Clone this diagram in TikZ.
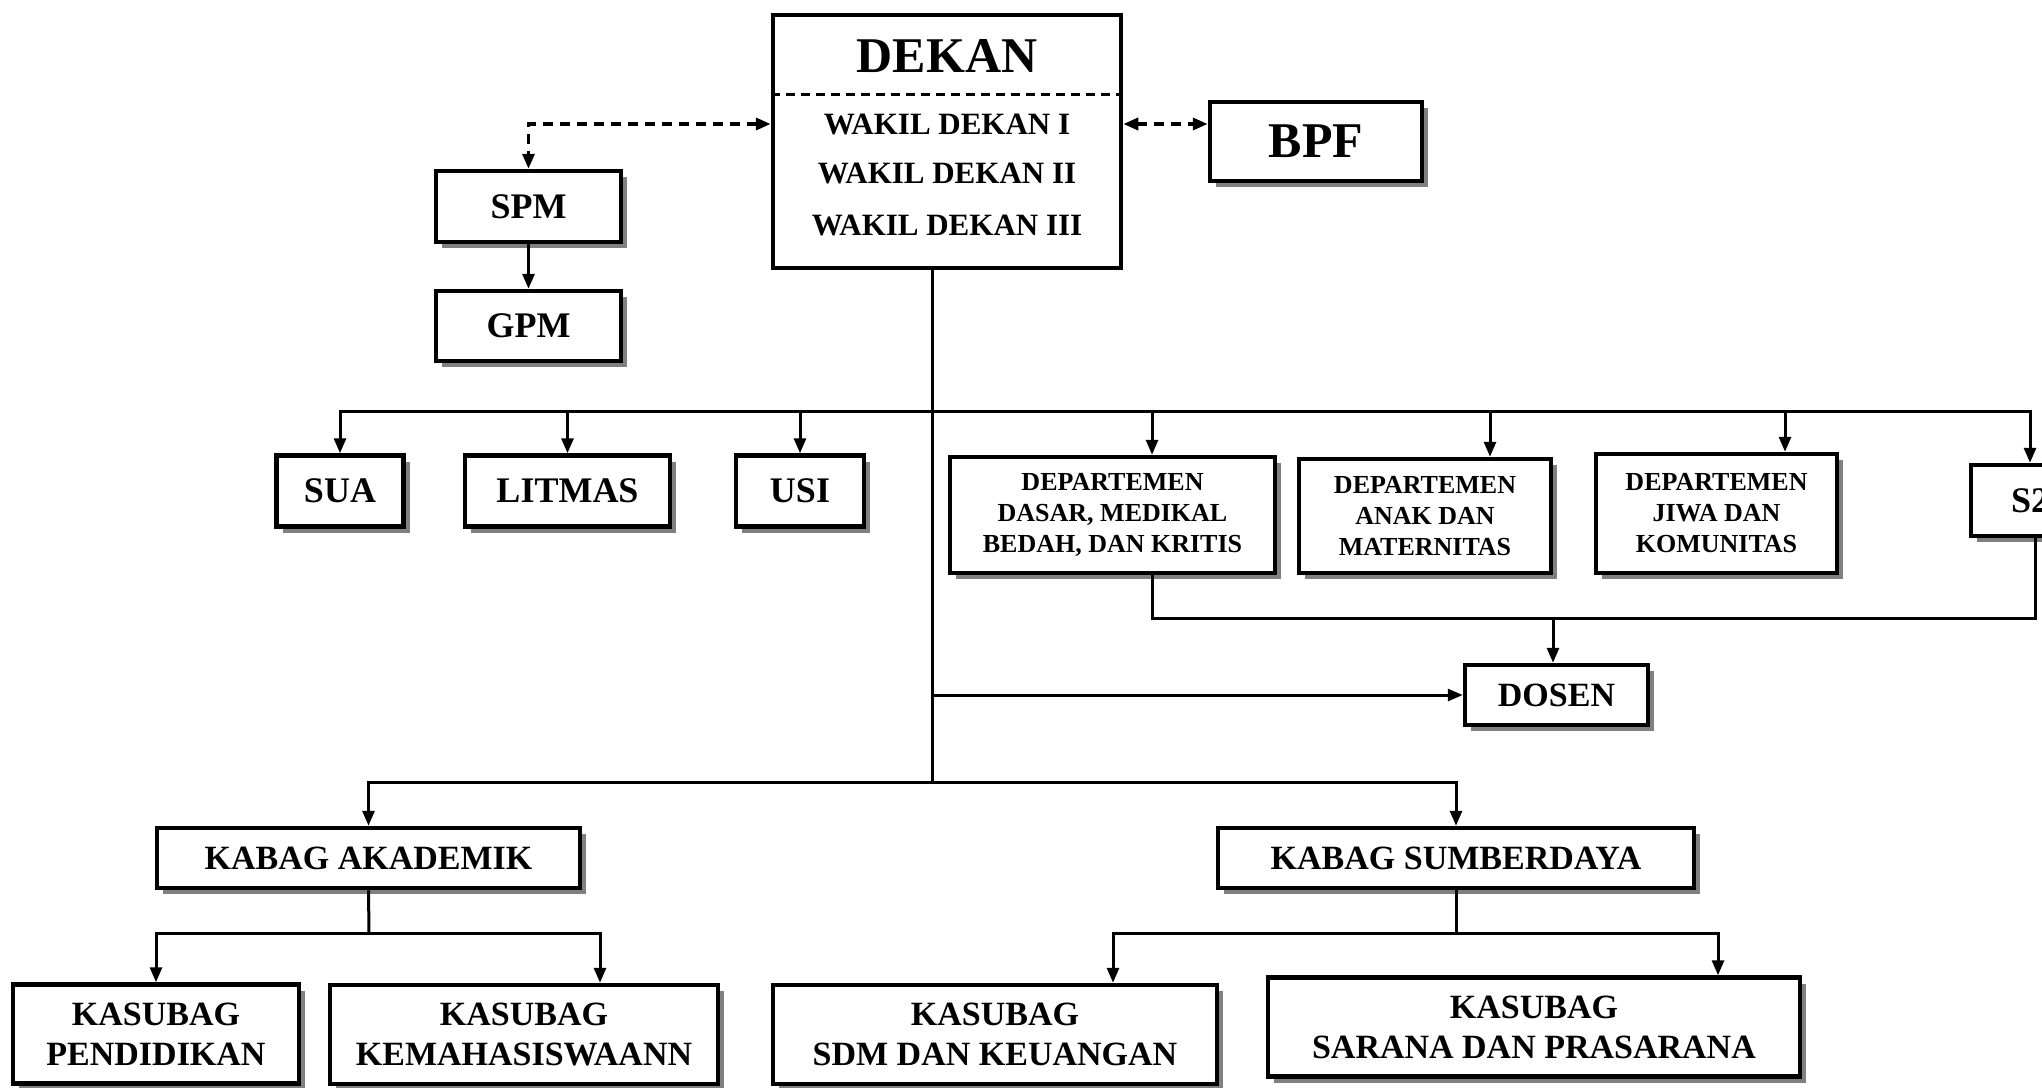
\documentclass[tikz,border=0pt]{standalone}
\usepackage{fontspec}
\setmainfont{Liberation Serif}
\usetikzlibrary{arrows.meta,shadows}
\tikzset{
  orgbox/.style={draw,line width=4.5pt,fill=white,inner sep=0pt,align=center},
  shadowbox/.style={orgbox,drop shadow={shadow xshift=6pt,shadow yshift=-6pt,fill=black!50,opacity=1}},
  plain/.style={line width=3pt},
  conn/.style={plain,-{Triangle[length=15pt,width=12pt]}},
  dashconn/.style={line width=3.5pt,dash pattern=on 10pt off 7pt,{Triangle[length=15pt,width=12pt]}-{Triangle[length=15pt,width=12pt]}},
  bigtxt/.style={font=\fontsize{50}{60}\selectfont\bfseries},
  wdtxt/.style={font=\fontsize{31}{36}\selectfont\bfseries},
  unittxt/.style={font=\fontsize{36}{42}\selectfont\bfseries},
  deptxt/.style={font=\fontsize{26}{31}\selectfont\bfseries},
  kabtxt/.style={font=\fontsize{34}{40}\selectfont\bfseries}
}
\begin{document}
\begin{tikzpicture}[x=1pt,y=1pt,yscale=-1,xscale=1]
        \path[use as bounding box,fill=white] (0,0) rectangle (2042,1087);
        \clip (0,0) rectangle (2042,1087);
        \node[orgbox,minimum width=348pt,minimum height=253pt] (dekan) at (947,141.5) {};
        \node[bigtxt] (dekantitle) at (947,56) {DEKAN};
        \coordinate (divider) at (947,94);
        \draw[line width=3pt,dash pattern=on 9pt off 6pt] (dekan.west |- divider) -- (dekan.east |- divider);
        \node[wdtxt] (wd1) at (947,124) {WAKIL DEKAN I};
        \node[wdtxt] (wd2) at (947,173) {WAKIL DEKAN II};
        \node[wdtxt] (wd3) at (947,225) {WAKIL DEKAN III};
        \node[shadowbox,bigtxt,minimum width=212pt,minimum height=79pt] (bpf) at (1316,141.5) {BPF};
        \node[shadowbox,unittxt,minimum width=185pt,minimum height=71pt] (spm) at (528.5,206.5) {SPM};
        \node[shadowbox,unittxt,minimum width=185pt,minimum height=70pt] (gpm) at (528.5,326) {GPM};
        \node[shadowbox,unittxt,minimum width=127pt,minimum height=71pt] (sua) at (340,491) {SUA};
        \node[shadowbox,unittxt,minimum width=205pt,minimum height=71pt] (litmas) at (567.5,491) {LITMAS};
        \node[shadowbox,unittxt,minimum width=128pt,minimum height=71pt] (usi) at (800,491) {USI};
        \node[shadowbox,deptxt,minimum width=325pt,minimum height=116pt] (dep1) at (1112.5,515) {DEPARTEMEN\\DASAR, MEDIKAL\\BEDAH, DAN KRITIS};
        \node[shadowbox,deptxt,minimum width=252pt,minimum height=114pt] (dep2) at (1425,516) {DEPARTEMEN\\ANAK DAN\\MATERNITAS};
        \node[shadowbox,deptxt,minimum width=241pt,minimum height=119pt] (dep3) at (1716.5,513.5) {DEPARTEMEN\\JIWA DAN\\KOMUNITAS};
        \node[shadowbox,unittxt,minimum width=118pt,minimum height=71pt] (s2) at (2030,500.5) {S2};
        \node[shadowbox,kabtxt,minimum width=183pt,minimum height=60pt] (dosen) at (1556.5,695) {DOSEN};
        \node[shadowbox,kabtxt,minimum width=423pt,minimum height=60pt] (kaka) at (368.5,858) {KABAG AKADEMIK};
        \node[shadowbox,kabtxt,minimum width=476pt,minimum height=60pt] (kasd) at (1456,858) {KABAG SUMBERDAYA};
        \node[shadowbox,kabtxt,minimum width=286pt,minimum height=99pt] (pend) at (156,1034) {KASUBAG\\PENDIDIKAN};
        \node[shadowbox,kabtxt,minimum width=388pt,minimum height=99pt] (kema) at (524,1034.5) {KASUBAG\\KEMAHASISWAANN};
        \node[shadowbox,kabtxt,minimum width=444pt,minimum height=99pt] (sdm) at (995,1034.5) {KASUBAG\\SDM DAN KEUANGAN};
        \node[shadowbox,kabtxt,minimum width=532pt,minimum height=99pt] (sarana) at (1534,1027) {KASUBAG\\SARANA DAN PRASARANA};
        \draw[dashconn] (dekan.west |- wd1) -| (spm.north);
        \draw[dashconn] (dekan.east |- wd1) -- (bpf.west |- wd1);
        \draw[conn] (spm) -- (gpm);
        \coordinate (bustop) at (932,411);
        \coordinate (busbot) at (932,782);
        \draw[plain] ([xshift=-15pt]dekan.south) -- (busbot);
        \draw[conn] (bustop) -| (sua.north);
        \draw[conn] (litmas.north |- bustop) -- (litmas.north);
        \draw[conn] (usi.north |- bustop) -- (usi.north);
        \draw[conn] ([xshift=39.5pt]dep1.north |- bustop) -- ([xshift=39.5pt]dep1.north);
        \draw[conn] ([xshift=65pt]dep2.north |- bustop) -- ([xshift=65pt]dep2.north);
        \draw[conn] ([xshift=68.5pt]dep3.north |- bustop) -- ([xshift=68.5pt]dep3.north);
        \draw[conn] (bustop) -| (s2.north);
        \coordinate (depbus) at (1553,618);
        \draw[plain] ([xshift=39.5pt]dep1.south) |- (depbus) -| ([xshift=5pt]s2.south);
        \draw[conn] (depbus) -- (depbus |- dosen.north);
        \draw[conn] (bustop |- dosen.west) -- (dosen.west);
        \draw[conn] (busbot) -| (kaka.north);
        \draw[conn] (busbot) -| (kasd.north);
        \coordinate (subakad) at (369,933);
        \coordinate (subsdy) at (1456,933);
        \draw[plain] (kaka.south) -- (subakad);
        \draw[conn] (subakad) -| (pend.north);
        \draw[conn] (subakad) -| ([xshift=76pt]kema.north);
        \draw[plain] (kasd.south) -- (subsdy);
        \draw[conn] (subsdy) -| ([xshift=118pt]sdm.north);
        \draw[conn] (subsdy) -| ([xshift=184pt]sarana.north);
\end{tikzpicture}
\end{document}
